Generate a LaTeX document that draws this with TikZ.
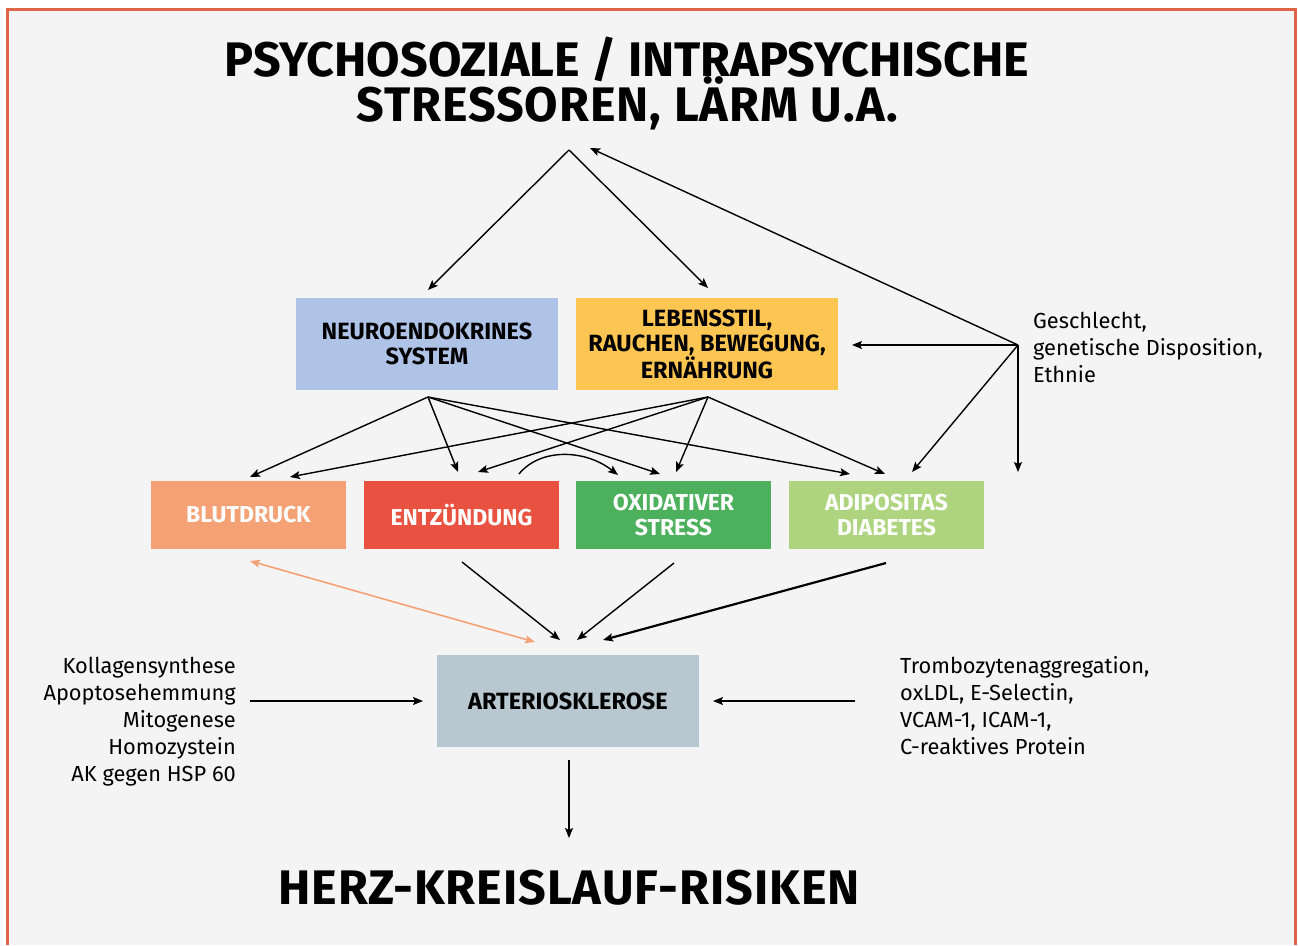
\documentclass[tikz,border=0pt]{standalone}
\usepackage{fontspec}
\setmainfont{Fira Sans}
\newfontfamily\spacedfont[LetterSpace=2]{Fira Sans}
\usetikzlibrary{arrows.meta}
\definecolor{paper}{HTML}{F4F4F4}
\definecolor{frame}{HTML}{E06448}
\definecolor{neuro}{HTML}{AEC3E6}
\definecolor{leben}{HTML}{FDC652}
\definecolor{blut}{HTML}{F4A275}
\definecolor{entz}{HTML}{E95140}
\definecolor{oxid}{HTML}{4CB05C}
\definecolor{adip}{HTML}{AED480}
\definecolor{arter}{HTML}{B8C7D0}
\tikzset{
  head/.style={font=\bfseries\fontsize{48.5}{50}\selectfont, inner sep=0},
  widehead/.style={font=\spacedfont\bfseries\fontsize{48.5}{50}\selectfont, inner sep=0},
  bigbox/.style={minimum width=262, minimum height=92, inner sep=0, align=center,
    font=\bfseries\fontsize{23.5}{25}\selectfont},
  rowbox/.style={minimum width=195, minimum height=68, inner sep=0, align=center,
    text=white, font=\bfseries\fontsize{23}{25}\selectfont},
  lbl/.style={inner sep=0, font=\fontsize{21.8}{27}\selectfont},
  arr/.style={line width=1.4, -{Stealth[length=10,width=8,inset=2]}},
}
\begin{document}
\begin{tikzpicture}[x=1pt,y=-1pt]
\useasboundingbox (0,0) rectangle (1298,945);
% background and frame (open at the bottom)
\fill[white] (0,0) rectangle (1298,945);
\fill[paper] (7,8) rectangle (1297,945);
\draw[frame, line width=3] (7.5,945) -- (7.5,9) -- (1295.5,9) -- (1295.5,945);

% headings
\node[head, anchor=base] (t1) at (627,76) {PSYCHOSOZIALE / INTRAPSYCHISCHE};
\node[widehead, anchor=base] (t2) at (627,121) {STRESSOREN, LÄRM U.A.};
\node[widehead, anchor=base] (herz) at (569,904) {HERZ-KREISLAUF-RISIKEN};

% boxes
\node[bigbox, fill=neuro] (neuro) at (427,344) {NEUROENDOKRINES\\SYSTEM};
\node[bigbox, fill=leben] (leben) at (707,344) {LEBENSSTIL,\\RAUCHEN, BEWEGUNG,\\ERNÄHRUNG};
\node[rowbox, fill=blut] (blut) at (248.5,515) {BLUTDRUCK};
\node[rowbox, fill=entz] (entz) at (461.5,515) {ENTZÜNDUNG};
\node[rowbox, fill=oxid] (oxid) at (673.5,515) {OXIDATIVER\\STRESS};
\node[rowbox, fill=adip] (adip) at (886.5,515) {ADIPOSITAS\\DIABETES};
\node[bigbox, fill=arter] (arter) at (568,701) {ARTERIOSKLEROSE};

% side labels (anchored at the baseline of their last line)
\node[lbl, anchor=base west, align=left] (gen) at (1033,382) {Geschlecht,\\genetische Disposition,\\Ethnie};
\node[lbl, anchor=base east, align=right] (links) at (236,781) {Kollagensynthese\\Apoptosehemmung\\Mitogenese\\Homozystein\\AK gegen HSP 60};
\node[lbl, anchor=base west, align=left] (rechts) at (900,754) {Trombozytenaggregation,\\oxLDL, E-Selectin,\\VCAM-1, ICAM-1,\\C-reaktives Protein};

% connector points
\coordinate (apex) at (569,150);
\coordinate (apexin) at (590,148);
\coordinate (neuroin) at (428,290);
\coordinate (lebenin) at (708,288);
\coordinate (gsrc) at (1018,345);
\coordinate (lebenr) at (852,345);
\coordinate (adipin) at (912,472);
\coordinate (gdown) at (1018,472);
\coordinate (nsrc) at (428,397);
\coordinate (lsrc) at (708,397);
\coordinate (blutA) at (250,477);
\coordinate (blutB) at (290,477);
\coordinate (entzA) at (458,472);
\coordinate (entzB) at (478,472);
\coordinate (oxidA) at (660,474);
\coordinate (oxidB) at (676,472);
\coordinate (adipA) at (850,474);
\coordinate (adipB) at (885,474);
\coordinate (entztop) at (519,474);
\coordinate (oxidtop) at (618,475);
\coordinate (blutlow) at (250,561);
\coordinate (entzlow) at (462,562);
\coordinate (oxidlow) at (674,563);
\coordinate (adiplow) at (886,563);
\coordinate (arterA) at (535,642);
\coordinate (arterB) at (560,640);
\coordinate (arterC) at (577,640);
\coordinate (arterD) at (603,640);
\coordinate (linksout) at (250,701);
\coordinate (arterL) at (423,701);
\coordinate (rechtsout) at (855,701);
\coordinate (arterR) at (713,701);
\coordinate (arterlow) at (569,760);
\coordinate (herzin) at (569,838);

% stressors to the two systems
\draw[arr] (apex) -- (neuroin);
\draw[arr] (apex) -- (lebenin);
% gender / genetics / ethnicity
\draw[arr] (gsrc) -- (apexin);
\draw[arr] (gsrc) -- (lebenr);
\draw[arr] (gsrc) -- (adipin);
\draw[arr] (gsrc) -- (gdown);
% systems to risk factors
\draw[arr] (nsrc) -- (blutA);
\draw[arr] (nsrc) -- (entzA);
\draw[arr] (nsrc) -- (oxidA);
\draw[arr] (nsrc) -- (adipA);
\draw[arr] (lsrc) -- (blutB);
\draw[arr] (lsrc) -- (entzB);
\draw[arr] (lsrc) -- (oxidB);
\draw[arr] (lsrc) -- (adipB);
% inflammation feeds oxidative stress
\draw[arr] (entztop) .. controls (540,448) and (585,449) .. (oxidtop);
% risk factors to arteriosclerosis
\draw[arr] (entzlow) -- (arterB);
\draw[arr] (oxidlow) -- (arterC);
\draw[arr, line width=2.2] (adiplow) -- (arterD);
\draw[line width=1.6, blut, {Stealth[length=10,width=8,inset=2]}-{Stealth[length=10,width=8,inset=2]}] (blutlow) -- (arterA);
% side influences and outcome
\draw[arr] (linksout) -- (arterL);
\draw[arr] (rechtsout) -- (arterR);
\draw[arr] (arterlow) -- (herzin);
\end{tikzpicture}
\end{document}
